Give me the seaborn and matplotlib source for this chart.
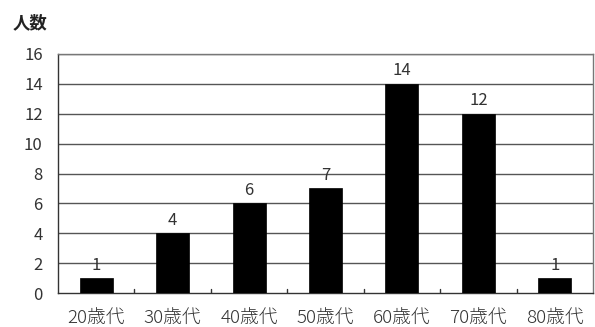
import matplotlib
matplotlib.use("Agg")
import matplotlib.pyplot as plt
import seaborn as sns
import pandas as pd

categories = ["20歳代", "30歳代", "40歳代", "50歳代", "60歳代", "70歳代", "80歳代"]
counts = [1, 4, 6, 7, 14, 12, 1]
y_ticks = [0, 2, 4, 6, 8, 10, 12, 14, 16]

sns.set_theme(style="white")
plt.rcParams['font.family'] = ['Noto Sans CJK JP', 'DejaVu Sans']

df = pd.DataFrame({"age": categories, "n": counts})

fig = plt.figure(figsize=(5.95, 3.27), dpi=100)
ax = fig.add_axes([58/595, 1 - 293/327, (593-58)/595, (293-54)/327])

sns.barplot(data=df, x="age", y="n", color="black", width=0.43,
            saturation=1, ax=ax, zorder=3, edgecolor="black", linewidth=0.5)

ax.set_ylim(0, 16)
ax.set_xlim(-0.5, len(categories) - 0.5)
ax.set_yticks(y_ticks)
ax.set_yticklabels([str(v) for v in y_ticks], fontsize=12, color="#333333")
ax.set_xticklabels(categories, fontsize=13.5, color="#333333",
                   fontweight="light")
ax.set_xlabel("")
ax.set_ylabel("")

for y in y_ticks[1:]:
    ax.axhline(y, color="#555555", lw=1.0, zorder=1)

for s in ["top", "right"]:
    ax.spines[s].set_color("#777777")
    ax.spines[s].set_linewidth(1.0)
for s in ["left", "bottom"]:
    ax.spines[s].set_color("#333333")
    ax.spines[s].set_linewidth(1.0)

ax.tick_params(axis="y", length=0, pad=11)
ax.tick_params(axis="x", length=0, pad=12)

# category boundary ticks on x axis (pointing up)
for b in range(1, len(categories)):
    ax.plot([b - 0.5, b - 0.5], [0, 0.25], color="#333333", lw=1.0, zorder=4)

for i, v in enumerate(counts):
    ax.text(i, v + 0.3, str(v), ha="center", va="bottom", fontsize=12,
            color="#333333")

fig.text(13/595, 1 - 23/327, "人数", fontsize=12.5, fontweight="bold",
         va="center", ha="left", color="#222222")

fig.savefig("out.png", dpi=100)
